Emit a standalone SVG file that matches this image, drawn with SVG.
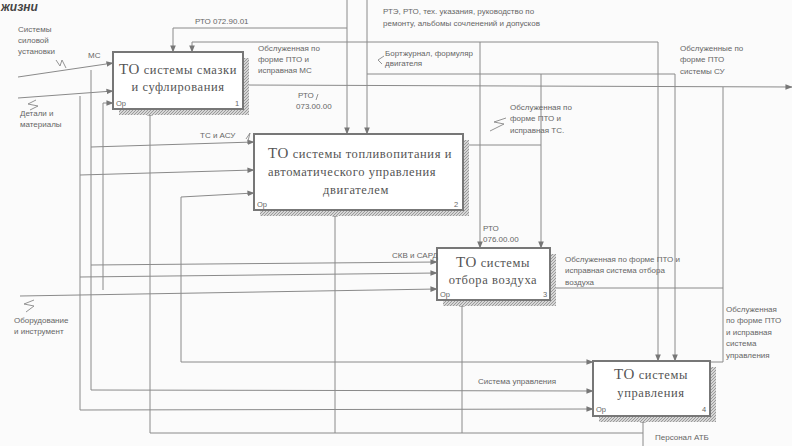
<svg xmlns="http://www.w3.org/2000/svg" width="792" height="446" viewBox="0 0 792 446">
<defs>
<marker id="ar" viewBox="0 0 8 8" refX="7.5" refY="4" markerWidth="7" markerHeight="7" orient="auto" markerUnits="userSpaceOnUse">
<path d="M0,0.8 L8,4 L0,7.2 z" fill="#777"/>
</marker>
<pattern id="hat" width="3" height="3" patternUnits="userSpaceOnUse">
<rect width="3" height="3" fill="#d6d6d6"/>
<path d="M0,3 L3,0" stroke="#9a9a9a" stroke-width="1"/>
</pattern>
</defs>
<style>
.bg{fill:#fbfbfb}
.box{fill:#fff;stroke:#777;stroke-width:2}
.sh{fill:url(#hat)}
.bt{font-family:"Liberation Serif","DejaVu Serif",serif;font-size:12.5px;fill:#555;text-anchor:middle;letter-spacing:0.6px}
.big{font-size:15px}
.sm{font-family:"Liberation Sans",Arial,sans-serif;font-size:7.5px;fill:#666}
.lb{font-family:"Liberation Sans",Arial,sans-serif;font-size:8px;fill:#666}
.c{fill:none;stroke:#8a8a8a;stroke-width:1}
.ca{fill:none;stroke:#8a8a8a;stroke-width:1;marker-end:url(#ar)}
.sq{fill:none;stroke:#888;stroke-width:0.9}
.ttl{font-family:"Liberation Sans",Arial,sans-serif;font-size:12px;font-weight:bold;font-style:italic;fill:#444}
</style>
<rect class="bg" width="792" height="446"/>
<text class="ttl" x="1" y="11">жизни</text>

<g id="connectors">
<path class="ca" d="M18,77 L113,63"/>
<path class="ca" d="M18,98 L113,91"/>
<path class="ca" d="M103,290 L103,103 L113,103"/>
<path class="ca" d="M91,70 L91,390 L593,391"/>
<path class="ca" d="M91,147 L254,142"/>
<path class="ca" d="M91,265 L437,262"/>
<path class="ca" d="M80,96 L80,410 L593,409"/>
<path class="ca" d="M80,175 L254,170"/>
<path class="ca" d="M80,277 L437,273"/>
<path class="ca" d="M20,296 L437,289"/>
<path class="ca" d="M181,290 L181,197 L254,193"/>
<path class="ca" d="M181,290 L181,362 L593,362"/>
<path class="ca" d="M347,0 L347,134"/>
<path class="c" d="M173,28 L347,28"/>
<path class="ca" d="M173,28 L173,52"/>
<path class="ca" d="M367,0 L367,134"/>
<path class="c" d="M192,42 L658,42"/>
<path class="ca" d="M192,42 L192,52"/>
<path class="ca" d="M480,42 L480,248"/>
<path class="ca" d="M658,42 L658,361"/>
<path class="c" d="M367,74 L675,74"/>
<path class="ca" d="M541,74 L541,248"/>
<path class="ca" d="M675,74 L675,361"/>
<path class="ca" d="M243,85 L792,87"/>
<path class="c" d="M463,145 L541,145"/>
<path class="c" d="M550,288 L723,288"/>
<path class="c" d="M710,362 L723,362 L723,87"/>
<path class="ca" d="M643,446 L643,416"/>
<path class="c" d="M150,433 L643,433"/>
<path class="ca" d="M150,433 L150,109"/>
<path class="ca" d="M335,433 L335,210"/>
<path class="ca" d="M462,433 L462,300"/>
<path class="sq" d="M56,60 L60,66 L62,60 L66,68"/>
<path class="sq" d="M36,100 L28,104 L38,106 L30,110"/>
<path class="sq" d="M34,300 L24,304 L34,306 L26,312"/>
<path class="sq" d="M246,139 L250,133 L248,141"/>
<path class="sq" d="M490,131 L504,124 L494,122 L506,118"/>
<path class="sq" d="M384,56 L378,60 L382,64"/>
<path class="sq" d="M316,100 L318,94"/>
</g>

<g id="box1">
<rect class="sh" x="119" y="58" width="130" height="57"/>
<rect class="box" x="113" y="52" width="130" height="57"/>
<text class="bt" x="178" y="74"><tspan class="big">ТО</tspan> системы смазки</text>
<text class="bt" x="178" y="91">и суфлирования</text>
<text class="sm" x="116" y="106">Ор</text>
<text class="sm" x="235" y="106">1</text>
</g>

<g id="box2">
<rect class="sh" x="260" y="140" width="209" height="76"/>
<rect class="box" x="254" y="134" width="209" height="76"/>
<text class="bt" x="360" y="158"><tspan class="big">ТО</tspan> системы топливопитания и</text>
<text class="bt" x="352" y="176">автоматического управления</text>
<text class="bt" x="356" y="194">двигателем</text>
<text class="sm" x="257" y="207">Ор</text>
<text class="sm" x="454" y="207">2</text>
</g>

<g id="box3">
<rect class="sh" x="443" y="254" width="113" height="52"/>
<rect class="box" x="437" y="248" width="113" height="52"/>
<text class="bt" x="493" y="267"><tspan class="big">ТО</tspan> системы</text>
<text class="bt" x="493" y="284">отбора воздуха</text>
<text class="sm" x="440" y="297">Ор</text>
<text class="sm" x="543" y="297">3</text>
</g>

<g id="box4">
<rect class="sh" x="599" y="367" width="117" height="55"/>
<rect class="box" x="593" y="361" width="117" height="55"/>
<text class="bt" x="651" y="379"><tspan class="big">ТО</tspan> системы</text>
<text class="bt" x="651" y="397">управления</text>
<text class="sm" x="596" y="412">Ор</text>
<text class="sm" x="702" y="412">4</text>
</g>

<g id="labels">
<text class="lb" x="18" y="32">Системы</text>
<text class="lb" x="18" y="43">силовой</text>
<text class="lb" x="18" y="54">установки</text>
<text class="lb" x="88" y="58">МС</text>
<text class="lb" x="20" y="116">Детали и</text>
<text class="lb" x="20" y="127">материалы</text>
<text class="lb" x="14" y="323">Оборудование</text>
<text class="lb" x="14" y="334">и инструмент</text>
<text class="lb" x="195" y="24">РТО 072.90.01</text>
<text class="lb" x="383" y="14">РТЭ, РТО, тех. указания, руководство по</text>
<text class="lb" x="383" y="26">ремонту, альбомы сочленений и допусков</text>
<text class="lb" x="258" y="51">Обслуженная по</text>
<text class="lb" x="258" y="62">форме ПТО и</text>
<text class="lb" x="258" y="73">исправная МС</text>
<text class="lb" x="385" y="56">Бортжурнал, формуляр</text>
<text class="lb" x="385" y="66">двигателя</text>
<text class="lb" x="680" y="51">Обслуженные по</text>
<text class="lb" x="680" y="62">форме ПТО</text>
<text class="lb" x="680" y="74">системы СУ</text>
<text class="lb" x="298" y="98">РТО</text>
<text class="lb" x="296" y="109">073.00.00</text>
<text class="lb" x="510" y="110">Обслуженная по</text>
<text class="lb" x="510" y="121">форме ПТО и</text>
<text class="lb" x="510" y="133">исправная ТС.</text>
<text class="lb" x="200" y="138">ТС и АСУ</text>
<text class="lb" x="483" y="231">РТО</text>
<text class="lb" x="483" y="242">076.00.00</text>
<text class="lb" x="392" y="258">СКВ и САРД</text>
<text class="lb" x="565" y="262">Обслуженная по форме ПТО и</text>
<text class="lb" x="565" y="273">исправная система отбора</text>
<text class="lb" x="565" y="285">воздуха</text>
<text class="lb" x="726" y="312">Обслуженная</text>
<text class="lb" x="726" y="323">по форме ПТО</text>
<text class="lb" x="726" y="335">и исправная</text>
<text class="lb" x="726" y="346">система</text>
<text class="lb" x="726" y="358">управления</text>
<text class="lb" x="478" y="384">Система управления</text>
<text class="lb" x="655" y="440">Персонал АТБ</text>
</g>
</svg>
